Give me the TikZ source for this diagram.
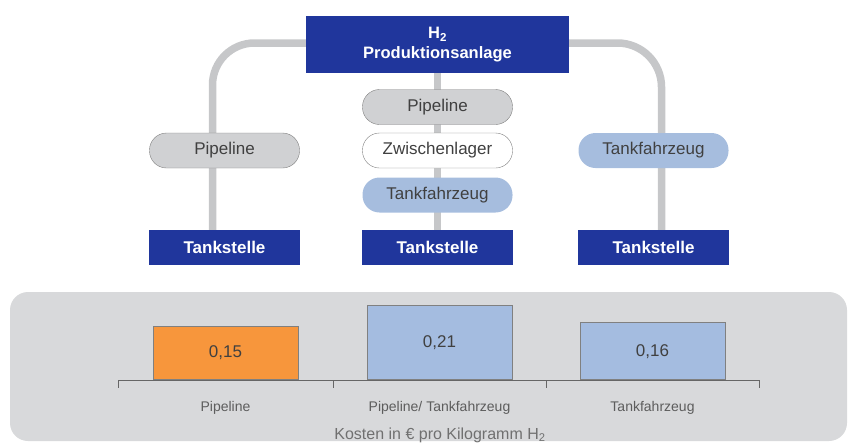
\documentclass[tikz,border=0pt]{standalone}
\usepackage{fontspec}
\setmainfont{Liberation Sans}
\usetikzlibrary{positioning, backgrounds}

\definecolor{plantblue}{RGB}{32,54,156}
\definecolor{pipegray}{RGB}{208,209,211}
\definecolor{truckblue}{RGB}{166,189,222}
\definecolor{linkgray}{RGB}{198,199,201}
\definecolor{panelgray}{RGB}{216,217,219}
\definecolor{barorange}{RGB}{247,150,60}
\definecolor{barblue}{RGB}{164,188,224}
\definecolor{textgray}{RGB}{64,64,64}

\tikzset{
    plant/.style={rectangle, fill=plantblue, text=white, align=center, font=\bfseries\fontsize{16.5}{20}\selectfont, minimum width=263pt, minimum height=57pt},
    station/.style={rectangle, fill=plantblue, text=white, font=\bfseries\fontsize{17}{20}\selectfont, minimum width=151pt, minimum height=35pt},
    carrier/.style={rectangle, rounded corners=17pt, text=textgray, font=\fontsize{17}{20}\selectfont, minimum width=150pt, minimum height=35pt},
    pipe/.style={carrier, draw=gray, fill=pipegray},
    store/.style={carrier, draw=gray, fill=white},
    truck/.style={carrier, fill=truckblue},
    link/.style={draw=linkgray, line width=7.5pt},
    bar/.style={rectangle, draw=gray, line width=0.8pt, text=textgray, font=\fontsize{17}{20}\selectfont, minimum width=145pt, anchor=south},
    axislabel/.style={text=textgray!85, font=\fontsize{14}{17}\selectfont},
}

\begin{document}
\begin{tikzpicture}[x=1pt, y=-1pt, on grid]
    \useasboundingbox (0,0) rectangle (856,445);

      \node[plant]   (plant)    at (437.5,44.5)         {H\textsubscript{2}\\Produktionsanlage};
      \node[pipe]    (pipeM)    [below=62.5pt of plant] {Pipeline};
      \node[store]   (storeM)   [below=43.5pt of pipeM] {Zwischenlager};
      \node[truck]   (truckM)   [below=44.5pt of storeM] {Tankfahrzeug};
      \node[station] (stationM) [below=52.5pt of truckM] {Tankstelle};

      \node[pipe]    (pipeL)    at (224.5,150.5)        {Pipeline};
      \node[station] (stationL) [below=97pt of pipeL]   {Tankstelle};
      \node[truck]   (truckR)   at (653.5,150.5)        {Tankfahrzeug};
      \node[station] (stationR) [below=97pt of truckR]  {Tankstelle};

      \begin{pgfonlayer}{background}
        \path[link] (plant) -- (stationM);
        \path[link, rounded corners=42pt] ([yshift=1.5pt]plant.west) -| ([xshift=-12pt]stationL.north);
        \path[link, rounded corners=44pt] ([yshift=1.5pt]plant.east) -| ([xshift=8pt]stationR.north);
      \end{pgfonlayer}

      \fill[panelgray, rounded corners=18pt] (10,292) rectangle (847,441);

      \foreach \x/\v/\val/\col/\name [count=\i] in {225.5/0.15/{0,15}/barorange/Pipeline, 439.5/0.21/{0,21}/barblue/{Pipeline/ Tankfahrzeug}, 652.5/0.16/{0,16}/barblue/Tankfahrzeug} {
        \pgfmathsetmacro\h{355*\v}
        \node[bar, fill=\col, minimum height=\h pt] (bar\i) at (\x,380) {\val};
        \node[axislabel] (label\i) at (\x,408) {\name};
      }

      \draw[textgray!80, line width=0.8pt] (118,380) -- (759,380);
      \foreach \t in {118,333,546,759}
        \draw[textgray!80, line width=0.8pt] (\t,380) -- (\t,388);

      \node[text=textgray!75, font=\fontsize{16}{19}\selectfont] (cost) at (440,435) {Kosten in € pro Kilogramm H\textsubscript{2}};
    \end{tikzpicture}
\end{document}
